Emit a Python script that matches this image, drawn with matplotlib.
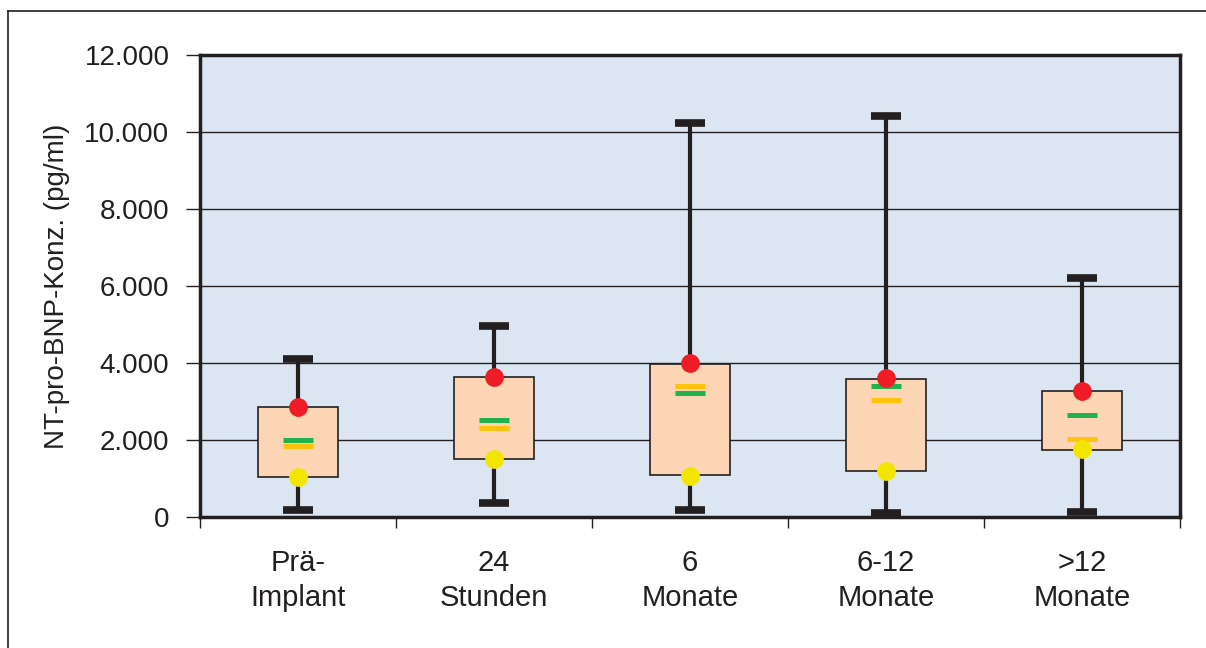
import matplotlib
matplotlib.use("Agg")
import matplotlib.pyplot as plt
from matplotlib.lines import Line2D
from matplotlib.ticker import FuncFormatter, FixedLocator

plt.rcParams['font.family'] = ['Liberation Sans', 'DejaVu Sans']

# Daten
kategorien = ["Prä-\nImplant", "24\nStunden", "6\nMonate", "6-12\nMonate", ">12\nMonate"]
minimum = [180, 360, 180, 110, 130]
q1 = [1040, 1500, 1080, 1190, 1740]
q3 = [2860, 3630, 3970, 3580, 3270]
maximum = [4100, 4950, 10230, 10410, 6210]
rote_punkte = [2870, 3630, 3990, 3600, 3270]
gelbe_punkte = [1040, 1500, 1070, 1190, 1760]
gruene_striche = [2010, 2510, 3220, 3400, 2640]
orange_striche = [1840, 2310, 3400, 3040, 2020]

dunkel = "#231F20"

fig = plt.figure(figsize=(12.06, 6.48), dpi=100)
ax = fig.add_axes([200 / 1206, (648 - 517) / 648, 980 / 1206, 462 / 648])
ax.set_facecolor("#DCE6F2")

pos = list(range(1, len(kategorien) + 1))

# Gitterlinien
for y in [2000, 4000, 6000, 8000, 10000]:
    ax.axhline(y, color=dunkel, lw=1.0, zorder=1)

stats = []
for i in range(len(kategorien)):
    # Median wird nicht gezeichnet, bxp braucht aber einen Wert
    stats.append(dict(med=q1[i], q1=q1[i], q3=q3[i], whislo=minimum[i], whishi=maximum[i]))

ax.bxp(stats, positions=pos, widths=0.41, capwidths=0.155, patch_artist=True,
       showfliers=False,
       boxprops=dict(facecolor="#FCD5B5", edgecolor=dunkel, lw=1.2),
       whiskerprops=dict(color=dunkel, lw=3.0),
       capprops=dict(color=dunkel, lw=5.5, solid_capstyle="butt"),
       medianprops=dict(visible=False), zorder=3)

ax.plot(pos, gruene_striche, ls="none", marker="_", ms=21, mew=3.6, color="#22B14C", zorder=5)
ax.plot(pos, orange_striche, ls="none", marker="_", ms=21, mew=3.6, color="#FFC20E", zorder=5)
ax.plot(pos, rote_punkte, ls="none", marker="o", ms=13.5, mew=0, color="#EE1C25", zorder=6)
ax.plot(pos, gelbe_punkte, ls="none", marker="o", ms=13.5, mew=0, color="#F2E600", zorder=6)

ax.set_xlim(0.5, len(kategorien) + 0.5)
ax.set_ylim(0, 12000)

# Achsen
ax.yaxis.set_major_locator(FixedLocator([0, 2000, 4000, 6000, 8000, 10000, 12000]))
ax.yaxis.set_major_formatter(FuncFormatter(lambda v, p: f"{v:,.0f}".replace(",", ".")))
ax.tick_params(axis="y", direction="out", length=10, width=1.0, color=dunkel,
               labelsize=20, labelcolor=dunkel, pad=12)

ax.xaxis.set_major_locator(FixedLocator([p - 0.5 for p in pos] + [pos[-1] + 0.5]))
ax.xaxis.set_major_formatter(FuncFormatter(lambda v, p: ""))
ax.xaxis.set_minor_locator(FixedLocator(pos))
ax.set_xticklabels(kategorien, minor=True, linespacing=1.32)
ax.tick_params(axis="x", which="major", direction="out", length=8, width=1.0, color=dunkel)
ax.tick_params(axis="x", which="minor", length=0, labelsize=21, labelcolor=dunkel, pad=23)

for sp in ax.spines.values():
    sp.set_color(dunkel)
    sp.set_linewidth(2.5)

ax.set_ylabel("NT-pro-BNP-Konz. (pg/ml)", fontsize=20, color=dunkel, labelpad=10)

# äußerer Rahmen
fig.add_artist(Line2D([8 / 1206, 8 / 1206], [0, 1 - 11 / 648], color=dunkel, lw=1.2))
fig.add_artist(Line2D([8 / 1206, 1], [1 - 11 / 648, 1 - 11 / 648], color=dunkel, lw=1.2))

fig.savefig("out.png", dpi=100)
